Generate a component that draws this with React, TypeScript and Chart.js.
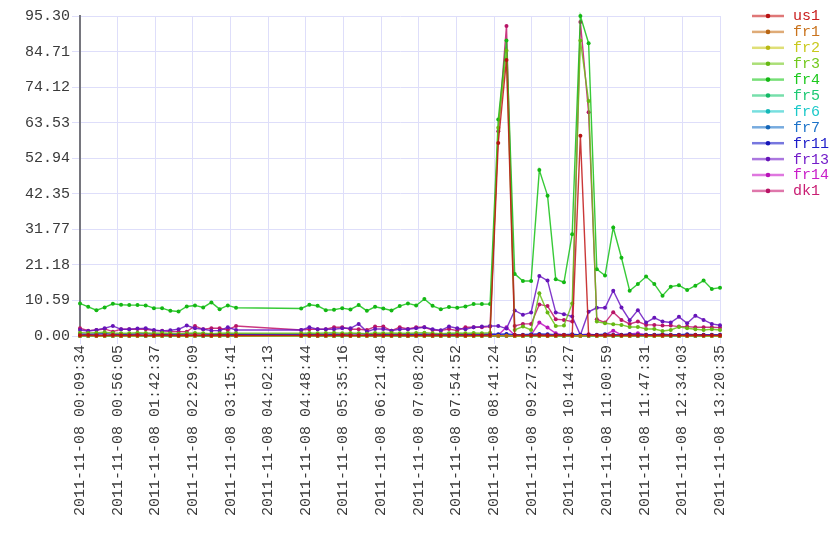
import React, { useEffect, useRef } from "react";
import { Chart, registerables } from "chart.js";

Chart.register(...registerables);

const DAY = "2011-11-08";

const times = [
  "00:09:34", "00:19:43", "00:29:52", "00:40:01", "00:50:10", "01:00:19", "01:10:28", "01:20:37", "01:30:46", "01:40:55",
  "01:51:04", "02:01:13", "02:11:22", "02:21:31", "02:31:40", "02:41:49", "02:51:58", "03:02:07", "03:12:16", "03:22:25",
  "04:42:56", "04:53:05", "05:03:14", "05:13:23", "05:23:32", "05:33:41", "05:43:50", "05:53:59", "06:04:08", "06:14:17",
  "06:24:26", "06:34:35", "06:44:44", "06:54:53", "07:05:02", "07:15:11", "07:25:20", "07:35:29", "07:45:38", "07:55:47",
  "08:05:56", "08:16:05", "08:26:14", "08:36:23", "08:46:32", "08:56:41", "09:06:50", "09:16:59", "09:27:08", "09:37:17",
  "09:47:26", "09:57:35", "10:07:44", "10:17:53", "10:28:02", "10:38:11", "10:48:20", "10:58:29", "11:08:38", "11:18:47",
  "11:28:56", "11:39:05", "11:49:14", "11:59:23", "12:09:32", "12:19:41", "12:29:50", "12:39:59", "12:50:08", "13:00:17",
  "13:10:26", "13:20:35",
];

const seriesNames = ["us1", "fr1", "fr2", "fr3", "fr4", "fr5", "fr6", "fr7", "fr11", "fr13", "fr14", "dk1"];

const us1 = [
  0.2, 0.3, 0.2, 0.2, 0.3, 0.2, 0.2, 0.3, 0.2, 0.2, 0.3, 0.2, 0.2, 0.2, 0.3, 0.2, 0.2, 0.3, 0.2, 0.2,
  0.2, 0.2, 0.3, 0.2, 0.2, 0.3, 0.2, 0.2, 0.2, 0.3, 0.2, 0.2, 0.3, 0.2, 0.2, 0.2, 0.3, 0.2, 0.2, 0.3, 0.2, 0.2, 0.2, 0.3,
  57.5, 82.2, 0.3, 0.2, 0.2, 0.3, 0.2, 0.2, 0.3, 0.2, 59.6, 0.3,
  0.2, 0.3, 0.2, 0.2, 0.3, 0.2, 0.2, 0.2, 0.3, 0.2, 0.2, 0.2, 0.3, 0.2, 0.2, 0.2,
];
const fr1 = [
  0.1, 0.1, 0.0, 0.1, 0.1, 0.0, 0.1, 0.1, 0.1, 0.0, 0.1, 0.1, 0.0, 0.1, 0.1, 0.1, 0.0, 0.1, 0.1, 0.0,
  0.1, 0.1, 0.0, 0.1, 0.1, 0.1, 0.0, 0.1, 0.1, 0.0, 0.1, 0.1, 0.1, 0.0, 0.1, 0.1, 0.0, 0.1, 0.1, 0.1, 0.0, 0.1, 0.1, 0.0,
  0.1, 0.1, 0.0, 0.1, 0.1, 0.1, 0.0, 0.1, 0.1, 0.0, 0.1, 0.1,
  0.1, 0.0, 0.1, 0.1, 0.0, 0.1, 0.1, 0.1, 0.0, 0.1, 0.1, 0.0, 0.1, 0.1, 0.1, 0.0,
];
const fr2 = [
  0.0, 0.1, 0.0, 0.0, 0.1, 0.0, 0.0, 0.0, 0.1, 0.0, 0.0, 0.1, 0.0, 0.0, 0.0, 0.1, 0.0, 0.0, 0.1, 0.0,
  0.0, 0.0, 0.1, 0.0, 0.0, 0.1, 0.0, 0.0, 0.0, 0.1, 0.0, 0.0, 0.1, 0.0, 0.0, 0.0, 0.1, 0.0, 0.0, 0.1, 0.0, 0.0, 0.0, 0.1,
  0.0, 0.1, 0.0, 0.0, 0.1, 0.0, 0.0, 0.0, 0.1, 0.0, 0.0, 0.1,
  0.0, 0.0, 0.1, 0.0, 0.0, 0.1, 0.0, 0.0, 0.0, 0.1, 0.0, 0.0, 0.1, 0.0, 0.0, 0.0,
];
const fr3 = [
  1.0, 0.9, 1.0, 1.1, 0.9, 0.8, 0.8, 1.0, 0.9, 0.8, 0.9, 0.8, 0.7, 0.8, 0.9, 0.8, 0.7, 0.8, 0.9, 0.8,
  0.8, 0.9, 0.8, 0.9, 1.0, 0.8, 0.9, 0.8, 0.7, 0.9, 0.8, 0.9, 0.8, 0.8, 0.9, 1.0, 0.8, 0.7, 0.8, 0.9, 0.8, 0.9, 0.8, 1.0,
  62.0, 85.0, 1.8, 2.8, 1.8, 12.7, 7.0, 3.0, 3.1, 9.7, 88.0, 70.0,
  4.3, 3.8, 3.5, 3.3, 2.7, 2.7, 2.1, 2.1, 1.5, 1.8, 2.7, 2.3, 2.0, 1.8, 2.0, 1.8,
];
const fr4 = [
  9.7, 8.7, 7.7, 8.5, 9.6, 9.3, 9.2, 9.2, 9.1, 8.3, 8.3, 7.5, 7.3, 8.8, 9.1, 8.5, 10.0, 8.0, 9.1, 8.4,
  8.2, 9.3, 9.0, 7.7, 7.8, 8.3, 7.9, 9.2, 7.5, 8.7, 8.2, 7.6, 8.9, 9.7, 9.1, 11.0, 9.0, 8.0, 8.6, 8.4, 8.8, 9.5, 9.5, 9.5,
  64.5, 88.0, 18.5, 16.4, 16.4, 49.4, 41.8, 16.9, 16.0, 30.3, 95.3, 87.2,
  19.9, 18.0, 32.3, 23.3, 13.5, 15.5, 17.7, 15.5, 12.0, 14.7, 15.1, 13.7, 15.0, 16.5, 14.0, 14.4,
];
const fr5 = [
  0.0, 0.0, 0.1, 0.0, 0.0, 0.0, 0.1, 0.0, 0.0, 0.0, 0.1, 0.0, 0.0, 0.0, 0.1, 0.0, 0.0, 0.0, 0.1, 0.0,
  0.0, 0.0, 0.1, 0.0, 0.0, 0.0, 0.1, 0.0, 0.0, 0.0, 0.1, 0.0, 0.0, 0.0, 0.1, 0.0, 0.0, 0.0, 0.1, 0.0, 0.0, 0.0, 0.1, 0.0,
  0.0, 0.1, 0.0, 0.0, 0.0, 0.1, 0.0, 0.0, 0.0, 0.1, 0.0, 0.0,
  0.0, 0.1, 0.0, 0.0, 0.0, 0.1, 0.0, 0.0, 0.0, 0.1, 0.0, 0.0, 0.0, 0.1, 0.0, 0.0,
];
const fr6 = [
  0.0, 0.0, 0.0, 0.1, 0.0, 0.0, 0.0, 0.0, 0.1, 0.0, 0.0, 0.0, 0.0, 0.1, 0.0, 0.0, 0.0, 0.0, 0.1, 0.0,
  0.0, 0.0, 0.0, 0.1, 0.0, 0.0, 0.0, 0.0, 0.1, 0.0, 0.0, 0.0, 0.0, 0.1, 0.0, 0.0, 0.0, 0.0, 0.1, 0.0, 0.0, 0.0, 0.0, 0.1,
  0.0, 0.0, 0.0, 0.0, 0.1, 0.0, 0.0, 0.0, 0.0, 0.1, 0.0, 0.0,
  0.0, 0.0, 0.1, 0.0, 0.0, 0.0, 0.0, 0.1, 0.0, 0.0, 0.0, 0.0, 0.1, 0.0, 0.0, 0.0,
];
const fr7 = [
  0.1, 0.0, 0.0, 0.0, 0.1, 0.0, 0.0, 0.1, 0.0, 0.0, 0.0, 0.1, 0.0, 0.0, 0.1, 0.0, 0.0, 0.0, 0.1, 0.0,
  0.0, 0.1, 0.0, 0.0, 0.0, 0.1, 0.0, 0.0, 0.1, 0.0, 0.0, 0.0, 0.1, 0.0, 0.0, 0.1, 0.0, 0.0, 0.0, 0.1, 0.0, 0.0, 0.1, 0.0,
  0.0, 0.0, 0.1, 0.0, 0.0, 0.1, 0.0, 0.0, 0.0, 0.1, 0.0, 0.0,
  0.1, 0.0, 0.0, 0.0, 0.1, 0.0, 0.0, 0.1, 0.0, 0.0, 0.0, 0.1, 0.0, 0.0, 0.1, 0.0,
];
const fr11 = [
  0.6, 0.5, 0.6, 0.7, 0.5, 0.6, 0.5, 0.6, 0.7, 0.5, 0.5, 0.6, 0.5, 0.6, 0.7, 0.6, 0.5, 0.5, 0.6, 0.5,
  0.5, 0.6, 0.5, 0.5, 0.6, 0.5, 0.6, 0.7, 0.5, 0.5, 0.6, 0.5, 0.5, 0.6, 0.5, 0.6, 0.5, 0.5, 0.6, 0.5, 0.6, 0.5, 0.5, 0.6,
  0.5, 0.6, 0.4, 0.4, 0.5, 0.6, 0.5, 0.4, 0.4, 0.5, 0.3, 0.4,
  0.4, 0.5, 0.4, 0.4, 0.5, 0.4, 0.4, 0.4, 0.5, 0.4, 0.4, 0.5, 0.4, 0.4, 0.4, 0.4,
];
const fr13 = [
  1.8, 1.5, 1.8, 2.3, 3.0, 2.0, 2.0, 2.2, 2.3, 1.8, 1.5, 1.7, 2.0, 3.1, 2.3, 2.0, 1.6, 1.6, 2.6, 1.8,
  1.8, 2.6, 2.0, 2.0, 2.0, 2.3, 2.3, 3.6, 1.3, 2.1, 2.1, 1.6, 2.0, 2.0, 2.3, 2.6, 2.0, 1.7, 2.8, 2.3, 2.0, 2.6, 2.8, 3.0,
  3.0, 2.2, 7.6, 6.3, 7.0, 17.9, 16.5, 7.0, 6.5, 5.8, 0.3, 7.2,
  8.4, 8.4, 13.5, 8.5, 4.7, 7.7, 4.0, 5.4, 4.3, 4.0, 5.7, 3.8, 6.0, 4.8, 3.6, 3.2,
];
const fr14 = [
  0.3, 0.2, 0.3, 0.2, 0.2, 0.3, 0.2, 0.3, 0.2, 0.2, 0.3, 0.2, 0.2, 0.3, 0.2, 0.2, 0.3, 0.2, 0.2, 0.3,
  0.2, 0.3, 0.2, 0.2, 0.3, 0.2, 0.2, 0.3, 0.2, 0.2, 0.3, 0.2, 0.2, 0.2, 0.3, 0.2, 0.2, 0.3, 0.2, 0.2, 0.3, 0.2, 0.2, 0.3,
  0.3, 2.6, 0.2, 0.2, 0.3, 4.0, 2.5, 0.8, 0.3, 0.3, 0.4, 0.5,
  0.3, 0.3, 1.6, 0.3, 0.6, 0.8, 0.4, 0.3, 0.3, 0.2, 0.3, 0.2, 0.2, 0.3, 0.2, 0.2,
];
const dk1 = [
  2.3, 1.6, 1.8, 2.1, 1.3, 2.0, 2.0, 2.1, 2.0, 1.6, 1.6, 1.3, 1.3, 1.3, 3.0, 2.0, 2.3, 2.3, 1.8, 3.0,
  1.8, 2.0, 2.0, 2.0, 2.6, 2.6, 2.0, 2.0, 1.8, 2.8, 2.8, 1.6, 2.6, 2.1, 2.6, 2.6, 1.8, 1.6, 2.1, 1.6, 2.6, 2.6, 2.6, 2.8,
  61.0, 92.3, 3.0, 3.6, 3.6, 9.4, 8.9, 5.0, 4.8, 4.3, 93.5, 66.6,
  5.0, 4.0, 7.1, 4.8, 3.6, 4.3, 3.3, 3.3, 3.1, 3.1, 2.8, 2.8, 2.6, 2.6, 2.6, 2.5,
];

const seriesValues = [us1, fr1, fr2, fr3, fr4, fr5, fr6, fr7, fr11, fr13, fr14, dk1];

const xTickLabels = [
  "00:09:34", "00:56:05", "01:42:37", "02:29:09", "03:15:41", "04:02:13", "04:48:44", "05:35:16", "06:21:48",
  "07:08:20", "07:54:52", "08:41:24", "09:27:55", "10:14:27", "11:00:59", "11:47:31", "12:34:03", "13:20:35",
];
const yTickLabels = ["0.00", "10.59", "21.18", "31.77", "42.35", "52.94", "63.53", "74.12", "84.71", "95.30"];
const Y_MAX = 95.3;

const FONT = "'Liberation Mono', 'DejaVu Sans Mono', monospace";

function toSec(t: string): number {
  const [h, m, s] = t.split(":").map(Number);
  return h * 3600 + m * 60 + s;
}

function hueOf(i: number) {
  return i * 30;
}
function pointColor(i: number) {
  return `hsl(${hueOf(i)}, 80%, 40%)`;
}
function lineColor(i: number) {
  return `hsla(${hueOf(i)}, 80%, 42%, 0.85)`;
}
function legendLineColor(i: number) {
  return `hsla(${hueOf(i)}, 75%, 45%, 0.6)`;
}

const sideLegend = {
  id: "sideLegend",
  afterDraw(chart: any) {
    const ctx = chart.ctx;
    ctx.save();
    chart.data.datasets.forEach((ds: any, i: number) => {
      const y = 16 + i * 15.9;
      ctx.strokeStyle = legendLineColor(i);
      ctx.lineWidth = 2.5;
      ctx.beginPath();
      ctx.moveTo(752, y);
      ctx.lineTo(784, y);
      ctx.stroke();
      ctx.fillStyle = ds.pointBackgroundColor;
      ctx.beginPath();
      ctx.arc(768, y, 2.3, 0, Math.PI * 2);
      ctx.fill();
      ctx.font = `15px ${FONT}`;
      ctx.textBaseline = "middle";
      ctx.textAlign = "left";
      ctx.fillStyle = `hsl(${hueOf(i)}, 75%, 45%)`;
      ctx.fillText(ds.label, 793, y + 0.5);
    });
    ctx.restore();
  },
};

export default function App() {
  const ref = useRef<HTMLCanvasElement | null>(null);

  useEffect(() => {
    if (!ref.current) return;
    const xs = times.map(toSec);
    const xMin = xs[0];
    const xMax = xs[xs.length - 1];

    const datasets = seriesNames.map((name, i) => ({
      label: name,
      data: seriesValues[i].map((v, k) => ({ x: xs[k], y: v })),
      borderColor: lineColor(i),
      backgroundColor: pointColor(i),
      pointBackgroundColor: pointColor(i),
      pointBorderWidth: 0,
      pointRadius: 2,
      borderWidth: 1.4,
      tension: 0,
      clip: 6,
    }));

    const chart = new Chart(ref.current, {
      type: "line",
      data: { datasets },
      options: {
        animation: false,
        responsive: false,
        devicePixelRatio: 1,
        layout: { padding: { top: 16, right: 120, left: 0, bottom: 0 } },
        plugins: { legend: { display: false }, tooltip: { enabled: false } },
        scales: {
          x: {
            type: "linear",
            min: xMin,
            max: xMax,
            afterBuildTicks: (scale: any) => {
              const n = xTickLabels.length;
              scale.ticks = xTickLabels.map((_, i) => ({ value: xMin + (i * (xMax - xMin)) / (n - 1) }));
            },
            afterFit: (scale: any) => {
              scale.height = 224;
            },
            ticks: {
              autoSkip: false,
              maxRotation: 90,
              minRotation: 90,
              padding: 1,
              color: "#3a3a3a",
              font: { family: FONT, size: 15 },
              callback: (_v: any, i: number) => `${DAY} ${xTickLabels[i]}`,
            },
            grid: { color: "#dedefa", lineWidth: 1, tickLength: 8 },
            border: { color: "#76767e", width: 2 },
          },
          y: {
            type: "linear",
            min: 0,
            max: Y_MAX,
            afterBuildTicks: (scale: any) => {
              const n = yTickLabels.length;
              scale.ticks = yTickLabels.map((_, i) => ({ value: (i * Y_MAX) / (n - 1) }));
            },
            afterFit: (scale: any) => {
              scale.width = 80;
            },
            ticks: {
              autoSkip: false,
              padding: 2,
              color: "#3a3a3a",
              font: { family: FONT, size: 15 },
              callback: (_v: any, i: number) => yTickLabels[i],
            },
            grid: { color: "#dedefa", lineWidth: 1, tickLength: 8 },
            border: { color: "#76767e", width: 2 },
          },
        },
      },
      plugins: [sideLegend],
    });
    return () => chart.destroy();
  }, []);

  return (
    <div style={{ position: "absolute", left: 0, top: 0, width: 840, height: 560, background: "#fff" }}>
      <canvas ref={ref} width={840} height={560} />
    </div>
  );
}
